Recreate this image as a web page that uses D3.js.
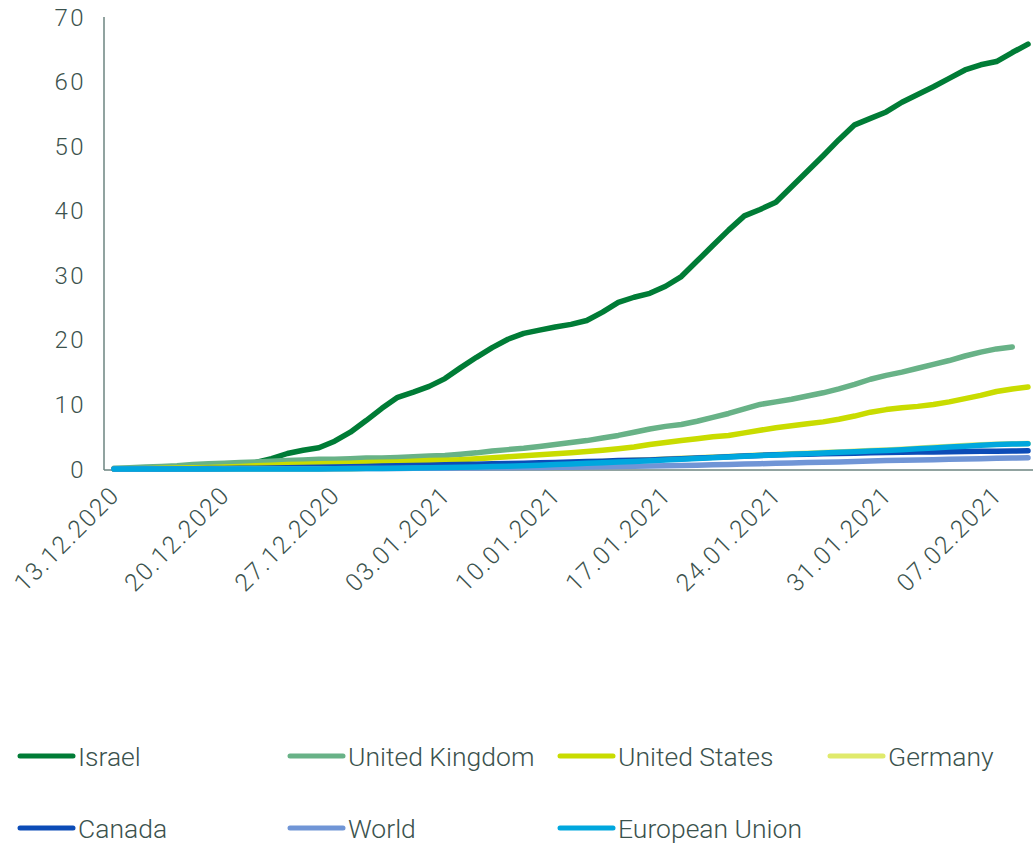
<!DOCTYPE html>
<html><head><meta charset="utf-8">
<script src="https://cdn.jsdelivr.net/npm/d3@7"></script>
<style>
html,body{margin:0;padding:0;background:#fff;}
svg{display:block;}
text{font-family:Roboto,"Liberation Sans",sans-serif;font-weight:300;fill:#3b524d;}
</style></head>
<body><svg id="c" width="1033" height="844"></svg>
<script>
const startDate = "2020-12-13";
const nDays = 59;
const tickLabels = ["13.12.2020","20.12.2020","27.12.2020","03.01.2021","10.01.2021","17.01.2021","24.01.2021","31.01.2021","07.02.2021"];
const yTicks = [0,10,20,30,40,50,60,70];

const israel = [0,0,0,0,0,0,0,0.1,0.5,1.0,1.6,2.4,2.9,3.3,4.3,5.7,7.5,9.4,11.1,11.9,12.8,14.0,15.7,17.3,18.8,20.1,21.0,21.5,22.0,22.4,23.0,24.3,25.8,26.6,27.2,28.3,29.8,32.2,34.6,37.0,39.2,40.2,41.3,43.7,46.1,48.5,51.0,53.3,54.3,55.3,56.8,58.0,59.2,60.5,61.8,62.6,63.1,64.5,65.8];
const uk = [0.1,0.2,0.3,0.4,0.5,0.7,0.8,0.9,1.0,1.1,1.2,1.3,1.4,1.5,1.5,1.6,1.7,1.7,1.8,1.9,2.0,2.1,2.3,2.5,2.8,3.0,3.2,3.5,3.8,4.1,4.4,4.8,5.2,5.7,6.2,6.6,6.9,7.4,8.0,8.6,9.3,10.0,10.4,10.8,11.3,11.8,12.4,13.1,13.9,14.5,15.0,15.6,16.2,16.8,17.5,18.1,18.6,18.9];
const us = [0,0.01,0.05,0.1,0.15,0.2,0.25,0.3,0.4,0.5,0.6,0.7,0.75,0.8,0.85,0.9,1.0,1.05,1.1,1.2,1.3,1.35,1.45,1.6,1.75,1.9,2.05,2.2,2.35,2.5,2.7,2.9,3.15,3.4,3.8,4.1,4.4,4.7,5.0,5.2,5.6,6.0,6.4,6.7,7.0,7.3,7.7,8.2,8.8,9.2,9.5,9.7,10.0,10.4,10.9,11.4,12.0,12.4,12.7];
const germany = [0,0,0,0,0,0,0,0,0,0,0,0,0,0,0.02,0.05,0.1,0.15,0.2,0.25,0.3,0.35,0.4,0.45,0.5,0.6,0.7,0.8,0.85,0.95,1.05,1.15,1.25,1.35,1.45,1.55,1.65,1.75,1.85,1.95,2.05,2.15,2.25,2.35,2.45,2.55,2.65,2.75,2.85,2.95,3.05,3.2,3.35,3.5,3.65,3.75,3.85,3.9,3.95];
const canada = [0,0,0,0.01,0.02,0.04,0.06,0.08,0.1,0.13,0.16,0.2,0.24,0.28,0.32,0.35,0.4,0.45,0.5,0.55,0.6,0.65,0.7,0.75,0.8,0.85,0.9,0.95,1.0,1.1,1.15,1.2,1.3,1.35,1.4,1.5,1.6,1.7,1.8,1.9,2.0,2.1,2.2,2.25,2.3,2.35,2.4,2.45,2.5,2.55,2.6,2.62,2.65,2.68,2.7,2.73,2.76,2.79,2.82];
const world = [0,0,0,0,0.01,0.01,0.01,0.02,0.02,0.02,0.03,0.03,0.04,0.05,0.05,0.06,0.07,0.08,0.09,0.1,0.1,0.12,0.14,0.16,0.18,0.2,0.22,0.24,0.26,0.29,0.32,0.35,0.38,0.42,0.46,0.5,0.55,0.6,0.65,0.7,0.76,0.82,0.88,0.94,1.0,1.05,1.1,1.17,1.23,1.3,1.35,1.4,1.45,1.5,1.55,1.6,1.65,1.7,1.75];
const eu = [0,0,0,0,0,0,0,0,0,0,0,0,0,0,0.02,0.04,0.06,0.08,0.1,0.14,0.18,0.22,0.27,0.32,0.38,0.44,0.5,0.58,0.68,0.78,0.88,0.98,1.08,1.18,1.28,1.38,1.5,1.62,1.74,1.86,1.98,2.08,2.18,2.28,2.38,2.48,2.58,2.68,2.78,2.88,2.98,3.12,3.26,3.4,3.54,3.66,3.78,3.86,3.9];

const seriesNames = ["Israel","United Kingdom","United States","Germany","Canada","World","European Union"];
const seriesValues = [israel, uk, us, germany, canada, world, eu];
const seriesColors = ["#007c36","#68b287","#c9dc00","#e0ea6c","#0c4cb7","#7095d6","#00a7de"];

const svg = d3.select("#c");
const parse = d3.timeParse("%Y-%m-%d");
const d0 = parse(startDate);
const dates = d3.range(nDays).map(i => d3.timeDay.offset(d0, i));

const x = d3.scaleTime().domain([dates[0], dates[nDays-1]]).range([114, 1028]);
const y = d3.scaleLinear().domain([0, 70]).range([469, 17]);

const axisColor = "#6c8580";
svg.append("line").attr("x1",104).attr("x2",104).attr("y1",y(70)).attr("y2",y(0)+1).attr("stroke",axisColor).attr("stroke-width",1.5);
svg.append("line").attr("x1",104).attr("x2",1033).attr("y1",y(0)+1).attr("y2",y(0)+1).attr("stroke",axisColor).attr("stroke-width",1.5);

svg.selectAll(".yl").data(yTicks).enter().append("text")
  .attr("x",86).attr("y",d=>y(d)).attr("dy","0.36em").attr("text-anchor","end")
  .attr("font-size",24).attr("letter-spacing",2.5).text(d=>d);

const tickDates = tickLabels.map((t,i)=>d3.timeDay.offset(d0, i*7));
svg.selectAll(".xl").data(tickDates).enter().append("text")
  .attr("transform",(d)=>`translate(${x(d)-5.5},${484}) rotate(-45)`)
  .attr("text-anchor","end").attr("dy","0.72em").attr("font-size",24.5).attr("letter-spacing",1.6)
  .text((d,i)=>tickLabels[i]);

const line = d3.line().x((d,i)=>x(dates[i])).y(d=>y(d));
seriesValues.forEach((vals,k)=>{
  svg.append("path").datum(vals).attr("d",line)
    .attr("fill","none").attr("stroke",seriesColors[k]).attr("stroke-width",5.5)
    .attr("stroke-linejoin","round").attr("stroke-linecap","round");
});

const legX = [20,290,560,830];
const legY = [756,828];
seriesNames.forEach((name,k)=>{
  const col = k<4 ? k : k-4;
  const row = k<4 ? 0 : 1;
  const lx = legX[col], ly = legY[row];
  svg.append("line").attr("x1",lx).attr("x2",lx+53).attr("y1",ly).attr("y2",ly)
    .attr("stroke",seriesColors[k]).attr("stroke-width",5).attr("stroke-linecap","round");
  svg.append("text").attr("x",lx+58).attr("y",ly).attr("dy","0.36em").attr("font-size",26.5).text(name);
});
</script></body></html>
